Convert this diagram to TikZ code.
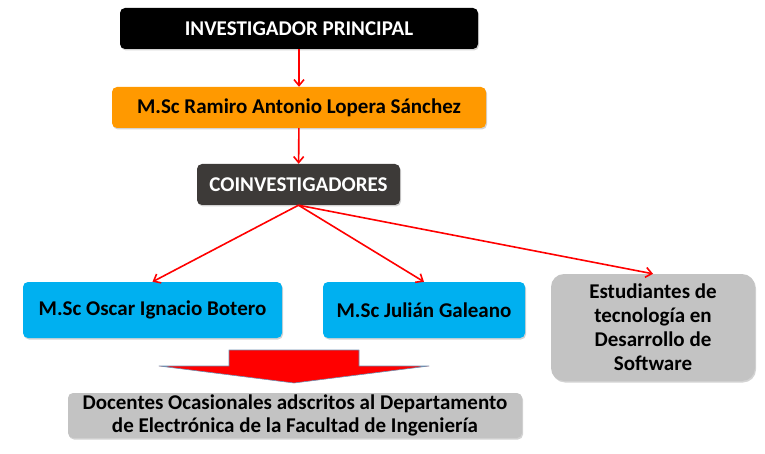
\documentclass[tikz,border=0pt]{standalone}
\usepackage{fontspec}
\setmainfont{Carlito}
\usepackage{xcolor}
\usepackage{tikz}
\usetikzlibrary{arrows.meta, positioning, shadows}

\definecolor{naranja}{HTML}{FF9900}
\definecolor{grisoscuro}{HTML}{3D3A38}
\definecolor{celeste}{HTML}{00B0F0}
\definecolor{grisclaro}{HTML}{C3C3C3}
\definecolor{bordeflecha}{HTML}{6F8FB0}

\tikzset{
    caja/.style={rounded corners=5pt, inner sep=0pt, align=center,
        font=\bfseries\fontsize{21}{24}\selectfont,
        drop shadow={opacity=0.35, shadow xshift=1pt, shadow yshift=-1.5pt}},
    enlace/.style={->, red, line width=1.6pt}
}

\begin{document}
\begin{tikzpicture}[>={Straight Barb[length=6pt, width=10pt]}, x=1pt, y=-1pt, line join=round]
    \useasboundingbox (0,0) rectangle (765,454);

    % Upper chain
    \node[caja, fill=black, text=white, minimum width=358pt, minimum height=41pt]
        (jefe) at (299,28.5) {INVESTIGADOR PRINCIPAL};
    \node[caja, fill=naranja, minimum width=374pt, minimum height=41pt]
        (ramiro) at (299,107.5) {M.Sc Ramiro Antonio Lopera Sánchez};
    \node[caja, fill=grisoscuro, text=white, minimum width=203pt, minimum height=41pt]
        (coinv) at (298.5,184.5) {COINVESTIGADORES};

    % Coinvestigators and students
    \node[caja, fill=celeste, minimum width=259pt, minimum height=56pt]
        (oscar) at (152.5,310) {M.Sc Oscar Ignacio Botero};
    \node[caja, fill=celeste, minimum width=202pt, minimum height=56pt]
        (julian) at (424,310) {M.Sc Julián Galeano};
    \node[caja, fill=grisclaro, rounded corners=13pt, minimum width=204pt, minimum height=107pt]
        (estud) at (653,327.5) {Estudiantes de\\tecnología en\\Desarrollo de\\Software};

    % Occasional teachers
    \node[caja, fill=grisclaro, font=\bfseries\fontsize{21}{23}\selectfont,
        minimum width=454pt, minimum height=45pt]
        (docentes) at (295,415.5) {Docentes Ocasionales adscritos al Departamento\\de Electrónica de la Facultad de Ingeniería};

    % Connectors
    \draw[enlace] (jefe) -- (ramiro);
    \draw[enlace] (ramiro) -- (coinv);
    \foreach \destino in {oscar, julian, estud}{
        \draw[enlace] (coinv.south) -- (\destino.north);
    }

    % Big block arrow
    \filldraw[fill=red, draw=bordeflecha, line width=0.6pt]
        (229,350) -- (359,350) -- (359,366) -- (429,366) -- (294,383)
        -- (159,366) -- (229,366) -- cycle;

\end{tikzpicture}
\end{document}
